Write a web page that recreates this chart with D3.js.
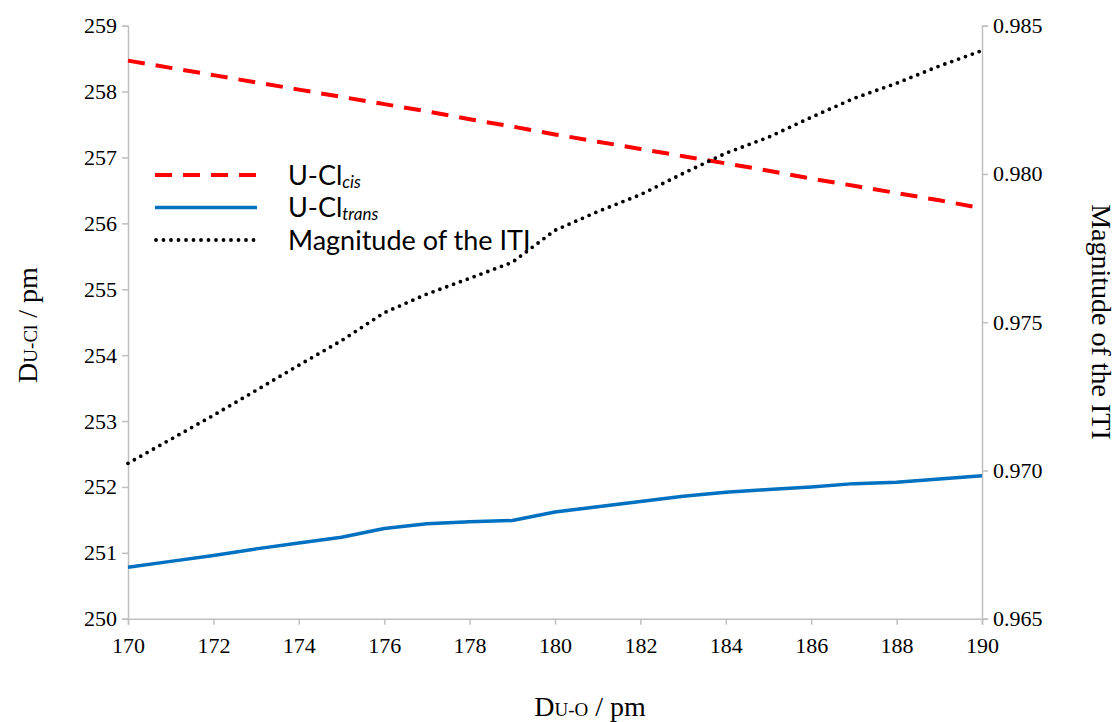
<!DOCTYPE html>
<html><head><meta charset="utf-8">
<script src="https://cdn.jsdelivr.net/npm/d3@7"></script>
<style>body{margin:0;background:#fff}svg{display:block}</style>
</head><body>
<svg id="c" width="1117" height="722"></svg>
<script>
const xValues = [170,171,172,173,174,175,176,177,178,179,180,181,182,183,184,185,186,187,188,189,190];
const uclCis = [258.47,258.36,258.25,258.14,258.03,257.92,257.81,257.70,257.58,257.47,257.35,257.24,257.13,257.02,256.91,256.80,256.68,256.57,256.46,256.35,256.23];
const uclTrans = [250.78,250.87,250.96,251.06,251.15,251.235,251.37,251.44,251.47,251.49,251.62,251.70,251.78,251.86,251.92,251.96,252.00,252.05,252.07,252.12,252.17];
const itiMagnitude = [0.97024,0.97105,0.97186,0.97270,0.97355,0.97438,0.97532,0.97595,0.97648,0.97702,0.97810,0.97873,0.97930,0.98002,0.98070,0.98124,0.98191,0.98255,0.98306,0.98364,0.98416];
const xTicks = [170,172,174,176,178,180,182,184,186,188,190];
const leftTicks = [250,251,252,253,254,255,256,257,258,259];
const rightTicks = [0.965,0.970,0.975,0.980,0.985];
const legendLabels = [["U-Cl","cis"],["U-Cl","trans"],["Magnitude of the ITI",""]];

const svg = d3.select("#c");
const L = 128, R = 982, T = 25.7, B = 618.7;
const x = d3.scaleLinear().domain([170,190]).range([L,R]);
const yL = d3.scaleLinear().domain([250,259]).range([B,T]);
const yR = d3.scaleLinear().domain([0.965,0.985]).range([B,T]);

const serif = "'Liberation Serif','Times New Roman',serif";
const sans = "Lato,'Open Sans',sans-serif";
const axisColor = "#bfbfbf";

function styleAxis(g){
  g.select(".domain").attr("stroke",axisColor).attr("stroke-width",1.5);
  g.selectAll(".tick line").attr("stroke",axisColor).attr("stroke-width",1.5);
  g.selectAll(".tick text").attr("fill","#000").style("font-family",serif).style("font-size","22px");
}
svg.append("g").attr("transform",`translate(0,${B})`)
  .call(d3.axisBottom(x).tickValues(xTicks).tickFormat(d3.format("d")).tickSizeOuter(0).tickSize(6).tickPadding(13))
  .call(styleAxis);
svg.append("g").attr("transform",`translate(${L},0)`)
  .call(d3.axisLeft(yL).tickValues(leftTicks).tickFormat(d3.format("d")).tickSizeOuter(0).tickSize(6).tickPadding(5))
  .call(styleAxis);
svg.append("g").attr("transform",`translate(${R},0)`)
  .call(d3.axisRight(yR).tickValues(rightTicks).tickFormat(d3.format(".3f")).tickSizeOuter(0).tickSize(6).tickPadding(5))
  .call(styleAxis);

const lineL = d3.line().x((d,i)=>x(xValues[i])).y(d=>yL(d));
const lineR = d3.line().x((d,i)=>x(xValues[i])).y(d=>yR(d));

svg.append("path").datum(uclTrans).attr("d",lineL).attr("fill","none")
  .attr("stroke","#0070c0").attr("stroke-width",3.5).attr("stroke-linejoin","round");
svg.append("path").datum(uclCis).attr("d",lineL).attr("fill","none")
  .attr("stroke","#ff0000").attr("stroke-width",4).attr("stroke-dasharray","17 11");
svg.append("path").datum(itiMagnitude).attr("d",lineR).attr("fill","none")
  .attr("stroke","#000").attr("stroke-width",3.8).attr("stroke-linecap","round").attr("stroke-dasharray","0 7.3");

// legend
const legY = [175,207.5,240];
const styles = [
  {stroke:"#ff0000",w:4,dash:"17 11",cap:"butt"},
  {stroke:"#0070c0",w:3.5,dash:null,cap:"butt"},
  {stroke:"#000",w:3.8,dash:"0 7.5",cap:"round"}
];
legendLabels.forEach((lab,i)=>{
  const s = styles[i];
  const ln = svg.append("line").attr("x1",i===2?156:155).attr("x2",i===2?256:257).attr("y1",legY[i]).attr("y2",legY[i])
    .attr("stroke",s.stroke).attr("stroke-width",s.w).attr("stroke-linecap",s.cap);
  if(s.dash) ln.attr("stroke-dasharray",s.dash);
  const t = svg.append("text").attr("x",288).attr("y",legY[i]+9.5)
    .style("font-family",sans).style("font-size","27px").attr("fill","#000");
  t.append("tspan").text(lab[0]);
  if(lab[1]) t.append("tspan").attr("dy",3).style("font-size","17px").style("font-style","italic").text(lab[1]);
});

// axis titles
const xt = svg.append("text").attr("x",590).attr("y",716).attr("text-anchor","middle")
  .style("font-family",serif).style("font-size","28px").attr("fill","#000");
xt.append("tspan").text("D");
xt.append("tspan").style("font-size","19px").text("U-O");
xt.append("tspan").text(" / pm");

const yt = svg.append("text").attr("transform","translate(37,325) rotate(-90)").attr("text-anchor","middle")
  .style("font-family",serif).style("font-size","28px").attr("fill","#000");
yt.append("tspan").text("D");
yt.append("tspan").style("font-size","19px").text("U-Cl");
yt.append("tspan").text(" / pm");

svg.append("text").attr("transform","translate(1092,322) rotate(90)").attr("text-anchor","middle")
  .style("font-family",serif).style("font-size","28px").attr("fill","#000").text("Magnitude of the ITI");
</script>
</body></html>
